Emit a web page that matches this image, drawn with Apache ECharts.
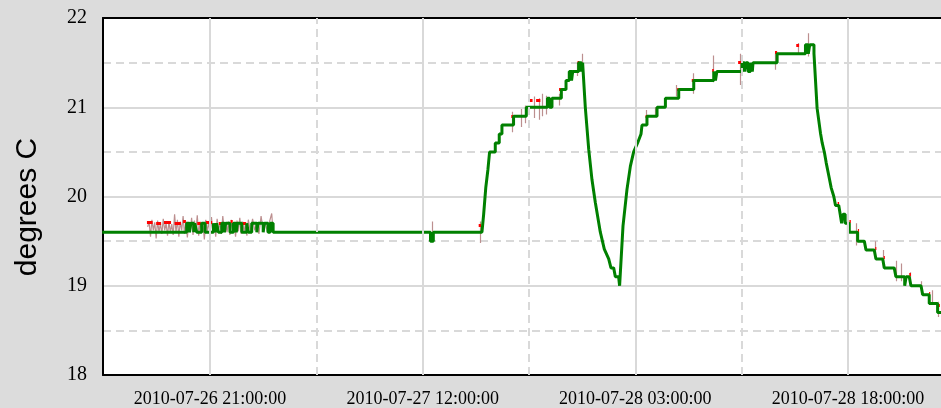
<!DOCTYPE html>
<html>
<head>
<meta charset="utf-8">
<title>degrees C</title>
<script src="https://cdn.jsdelivr.net/npm/echarts@6.0.0/dist/echarts.min.js"></script>
<style>
    html, body { margin: 0; padding: 0; background: #dcdcdc; }
    #chart { width: 941px; height: 408px; }
</style>
</head>
<body>
<div id="chart"></div>
<script>
    // x values are hours counted from 2010-07-26 00:00:00
    var xMin = 13.45, xMax = 72.56;
    var xTickHours = [21, 36, 51, 66];
    var xTickLabels = ['2010-07-26 21:00:00', '2010-07-27 12:00:00', '2010-07-28 03:00:00', '2010-07-28 18:00:00'];
    var xMinorHours = [28.5, 43.5, 58.5];

    // quantised reading (green)
    var greenPts = [
        [13.4, 19.6],
        [19.35, 19.6], [19.35, 19.7], [19.55, 19.7], [19.55, 19.6], [19.65, 19.6], [19.65, 19.7], [19.85, 19.7], [19.85, 19.6], [19.92, 19.6], [19.92, 19.7], [20.06, 19.7], [20.06, 19.6],
        [20.41, 19.6], [20.41, 19.7], [20.65, 19.7], [20.65, 19.6],
        [21.24, 19.6], [21.24, 19.7], [21.38, 19.7], [21.38, 19.6], [21.46, 19.6], [21.46, 19.7], [21.59, 19.7], [21.59, 19.6],
        [21.83, 19.6], [21.83, 19.7], [22.02, 19.7], [22.02, 19.6], [22.1, 19.6], [22.1, 19.7], [22.41, 19.7], [22.41, 19.6],
        [22.65, 19.6], [22.65, 19.7], [22.85, 19.7], [22.85, 19.6], [22.93, 19.6], [22.93, 19.7], [23.24, 19.7], [23.24, 19.6],
        [23.59, 19.6], [23.59, 19.7], [23.7, 19.7], [23.7, 19.6],
        [23.94, 19.6], [23.94, 19.7], [24.3, 19.7], [24.3, 19.6], [24.38, 19.6], [24.38, 19.7], [24.75, 19.7], [24.75, 19.6], [24.83, 19.6], [24.83, 19.7], [25.09, 19.7], [25.09, 19.6],
        [25.24, 19.6], [25.24, 19.7], [25.45, 19.7], [25.45, 19.6],
        [36.55, 19.6], [36.55, 19.5], [36.75, 19.5], [36.75, 19.6],
        [40.18, 19.6], [40.3, 19.8], [40.45, 20.1], [40.6, 20.3], [40.72, 20.5], [41.12, 20.5], [41.12, 20.6], [41.4, 20.6], [41.4, 20.7], [41.59, 20.7], [41.59, 20.8],
        [42.41, 20.8], [42.41, 20.9], [43.31, 20.9], [43.31, 21.0],
        [44.8, 21.0], [44.8, 21.1], [44.95, 21.1], [44.95, 21.0], [45.12, 21.0], [45.12, 21.1], [45.78, 21.1], [45.78, 21.2], [46.11, 21.2], [46.11, 21.3], [46.34, 21.3], [46.34, 21.4],
        [46.5, 21.4], [46.5, 21.3], [46.58, 21.3], [46.58, 21.4], [47.0, 21.4], [47.0, 21.5], [47.2, 21.5], [47.2, 21.4], [47.28, 21.4], [47.28, 21.5], [47.4, 21.5],
        [47.47, 21.0], [47.71, 20.53], [47.94, 20.19], [48.18, 19.93], [48.53, 19.6], [48.81, 19.41], [49.12, 19.3], [49.28, 19.2], [49.47, 19.2], [49.59, 19.1], [49.82, 19.1], [49.89, 19.0], [49.99, 19.0],
        [50.13, 19.67], [50.41, 20.08], [50.65, 20.34], [50.88, 20.5], [51.16, 20.6], [51.4, 20.7], [51.47, 20.8], [51.82, 20.8], [51.82, 20.9], [52.53, 20.9], [52.53, 21.0],
        [53.12, 21.0], [53.12, 21.1], [54.06, 21.1], [54.06, 21.2], [55.12, 21.2], [55.12, 21.3],
        [56.53, 21.3], [56.53, 21.4], [56.65, 21.4], [56.65, 21.3], [56.75, 21.3], [56.75, 21.4],
        [58.53, 21.4], [58.53, 21.5], [58.7, 21.5], [58.7, 21.4], [58.8, 21.4], [58.8, 21.5], [58.95, 21.5], [58.95, 21.4], [59.12, 21.4], [59.12, 21.5],
        [59.25, 21.5], [59.25, 21.4], [59.3, 21.4], [59.3, 21.5], [61.0, 21.5], [61.0, 21.6],
        [63.0, 21.6], [63.0, 21.7], [63.2, 21.7], [63.2, 21.6], [63.3, 21.6], [63.3, 21.7], [63.6, 21.7], [63.6, 21.6], [63.71, 21.6],
        [63.82, 20.99], [64.06, 20.71], [64.18, 20.6], [64.34, 20.49], [64.46, 20.38], [64.65, 20.23], [64.81, 20.1], [65.0, 20.0], [65.12, 19.9], [65.35, 19.9],
        [65.45, 19.8], [65.55, 19.8], [65.55, 19.7], [65.65, 19.7], [65.65, 19.8], [65.8, 19.8], [65.8, 19.7], [66.09, 19.7], [66.09, 19.6], [66.68, 19.6], [66.68, 19.5],
        [67.15, 19.5], [67.27, 19.4], [67.85, 19.4], [67.97, 19.3], [68.45, 19.3], [68.56, 19.2], [69.26, 19.2], [69.38, 19.1],
        [70.0, 19.1], [70.0, 19.0], [70.1, 19.0], [70.1, 19.1], [70.32, 19.1], [70.44, 19.0], [71.15, 19.0], [71.27, 18.9], [71.73, 18.9], [71.73, 18.8],
        [72.32, 18.8], [72.32, 18.7], [72.8, 18.7]
    ];

    // filtered reading (red): [from, to, value]
    var redBlobs = [
        [16.55, 16.95, 19.71], [17.2, 17.55, 19.7], [17.75, 18.25, 19.71], [18.5, 18.95, 19.7], [19.1, 19.3, 19.72],
        [20.1, 20.35, 19.7], [20.7, 21.15, 19.71], [21.62, 21.8, 19.7], [22.45, 22.6, 19.72], [23.3, 23.55, 19.7],
        [39.95, 40.12, 19.68], [42.25, 42.38, 20.9], [43.55, 43.75, 21.08], [44.0, 44.3, 21.08], [45.62, 45.76, 21.2], [46.92, 47.05, 21.5],
        [51.72, 51.82, 20.9], [53.95, 54.06, 21.2], [54.98, 55.1, 21.3], [56.42, 56.53, 21.42], [58.25, 58.5, 21.5],
        [60.85, 61.0, 21.62], [62.35, 62.55, 21.7], [63.1, 63.25, 21.7],
        [65.27, 65.37, 19.92], [66.1, 66.2, 19.72], [66.7, 66.78, 19.62], [67.92, 68.0, 19.42], [68.52, 68.6, 19.32],
        [70.32, 70.44, 19.13], [71.72, 71.8, 18.92], [72.35, 72.48, 18.78]
    ];

    // raw reading (rosy brown): noisy stretch on the first evening
    var rawNoise = [
        [16.6, 19.66], [16.7, 19.72], [16.8, 19.55], [16.9, 19.74], [17.0, 19.62], [17.1, 19.71], [17.2, 19.53], [17.3, 19.73],
        [17.4, 19.6], [17.5, 19.7], [17.6, 19.58], [17.7, 19.75], [17.8, 19.62], [17.9, 19.7], [18.0, 19.56], [18.1, 19.72],
        [18.2, 19.6], [18.3, 19.69], [18.4, 19.57], [18.5, 19.8], [18.6, 19.6], [18.7, 19.74], [18.8, 19.55], [18.9, 19.72],
        [19.0, 19.62], [19.1, 19.78], [19.2, 19.58], [19.3, 19.72], [19.4, 19.54], [19.5, 19.71], [19.6, 19.6], [19.7, 19.76],
        [19.8, 19.57], [19.9, 19.73], [20.0, 19.61], [20.1, 19.79], [20.2, 19.56], [20.3, 19.72], [20.4, 19.6], [20.5, 19.7],
        [20.6, 19.52], [20.7, 19.74], [20.8, 19.6], [20.9, 19.72], [21.0, 19.58], [21.1, 19.77], [21.2, 19.6], [21.3, 19.7],
        [21.4, 19.55], [21.5, 19.75], [21.6, 19.62], [21.7, 19.7], [21.8, 19.58], [21.9, 19.78], [22.0, 19.62], [22.1, 19.7],
        [22.2, 19.6], [22.3, 19.72], [22.4, 19.57], [22.5, 19.74], [22.6, 19.6], [22.7, 19.71], [22.8, 19.55], [22.9, 19.73],
        [23.0, 19.61], [23.1, 19.76], [23.2, 19.58], [23.3, 19.72], [23.4, 19.6], [23.5, 19.7], [23.6, 19.56], [23.7, 19.74],
        [23.85, 19.6], [24.0, 19.75], [24.15, 19.62], [24.3, 19.7], [24.45, 19.58], [24.6, 19.78], [24.75, 19.62], [24.9, 19.7],
        [25.05, 19.6], [25.2, 19.72], [25.35, 19.81], [25.45, 19.6]
    ];

    // raw reading spikes elsewhere: [time, low, high]
    var rawSpikes = [
        [36.65, 19.55, 19.72], [40.05, 19.48, 19.72], [42.35, 20.72, 20.95], [42.95, 20.78, 20.98], [43.2, 20.82, 21.02],
        [43.9, 20.88, 21.12], [44.2, 20.86, 21.1], [44.45, 20.9, 21.15], [44.7, 20.92, 21.13], [45.6, 21.02, 21.15],
        [46.9, 21.35, 21.5], [47.25, 21.4, 21.6], [51.75, 20.82, 20.97], [52.4, 20.9, 21.0], [53.9, 21.12, 21.25],
        [55.05, 21.15, 21.38], [56.5, 21.28, 21.58], [58.4, 21.25, 21.6], [60.9, 21.42, 21.6], [62.5, 21.6, 21.72],
        [63.2, 21.57, 21.83], [65.95, 19.5, 19.78], [66.6, 19.45, 19.7], [67.9, 19.3, 19.5], [68.5, 19.2, 19.4],
        [69.4, 19.05, 19.28], [69.75, 19.05, 19.25], [70.4, 19.0, 19.15], [71.2, 18.9, 19.05], [71.95, 18.8, 18.95],
        [72.4, 18.65, 18.82]
    ];

    var chart = echarts.init(document.getElementById('chart'));

    var gridColor = '#d9d9d9';
    var vLines = xTickHours.map(function (h) {
        return { xAxis: h, lineStyle: { type: 'solid' } };
    }).concat(xMinorHours.map(function (h) {
        return { xAxis: h, lineStyle: { type: [8, 5] } };
    }));

    var option = {
        backgroundColor: '#dcdcdc',
        animation: false,
        grid: {
            left: 103, top: 18, right: 0, bottom: 32,
            show: true,
            backgroundColor: '#ffffff',
            borderWidth: 0
        },
        xAxis: [{
            type: 'value',
            min: xMin,
            max: xMax,
            axisLine: { show: true, onZero: false, lineStyle: { color: '#000', width: 2 } },
            axisTick: { show: false },
            splitLine: { show: false },
            axisLabel: {
                customValues: xTickHours,
                margin: 15,
                color: '#000',
                fontFamily: 'Liberation Serif',
                fontSize: 18,
                formatter: function (v) {
                    var i = xTickHours.indexOf(v);
                    return i >= 0 ? xTickLabels[i] : '';
                }
            }
        }, {
            type: 'value',
            position: 'top',
            min: xMin,
            max: xMax,
            axisLine: { show: true, onZero: false, lineStyle: { color: '#000', width: 2 } },
            axisTick: { show: false },
            axisLabel: { show: false },
            splitLine: { show: false }
        }],
        yAxis: {
            type: 'value',
            min: 18,
            max: 22,
            interval: 1,
            axisLine: { show: true, onZero: false, lineStyle: { color: '#000', width: 2 } },
            axisTick: { show: false },
            axisLabel: {
                margin: 16,
                color: '#000',
                fontFamily: 'Liberation Serif',
                fontSize: 20
            },
            splitLine: { lineStyle: { color: gridColor, width: 2 } },
            minorTick: { show: false, splitNumber: 2 },
            minorSplitLine: { show: true, lineStyle: { color: gridColor, width: 2, type: [8, 5] } }
        },
        graphic: [{
            type: 'text',
            x: 28,
            y: 207,
            rotation: Math.PI / 2,
            style: {
                text: 'degrees C',
                fill: '#000',
                font: '30px "Liberation Sans"',
                align: 'center',
                verticalAlign: 'middle'
            }
        }],
        series: [
            {
                name: 'grid',
                type: 'line',
                data: [],
                z: 1,
                silent: true,
                markLine: {
                    silent: true,
                    symbol: ['none', 'none'],
                    label: { show: false },
                    lineStyle: { color: gridColor, width: 2 },
                    data: vLines
                }
            },
            {
                name: 'raw',
                type: 'line',
                data: rawNoise,
                z: 2,
                symbol: 'none',
                lineStyle: { color: '#bc8f8f', width: 1.2 }
            },
            {
                name: 'raw spikes',
                type: 'lines',
                coordinateSystem: 'cartesian2d',
                z: 2,
                lineStyle: { color: '#bc8f8f', width: 1.2, opacity: 1 },
                data: rawSpikes.map(function (s) {
                    return { coords: [[s[0], s[1]], [s[0], s[2]]] };
                })
            },
            {
                name: 'filtered',
                type: 'lines',
                coordinateSystem: 'cartesian2d',
                z: 3,
                lineStyle: { color: '#ff0000', width: 3, opacity: 1 },
                data: redBlobs.map(function (b) {
                    return { coords: [[b[0], b[2]], [b[1], b[2]]] };
                })
            },
            {
                name: 'quantised',
                type: 'line',
                data: greenPts,
                z: 4,
                symbol: 'none',
                lineStyle: { color: '#008000', width: 3 }
            }
        ]
    };

    chart.setOption(option);
</script>
</body>
</html>
